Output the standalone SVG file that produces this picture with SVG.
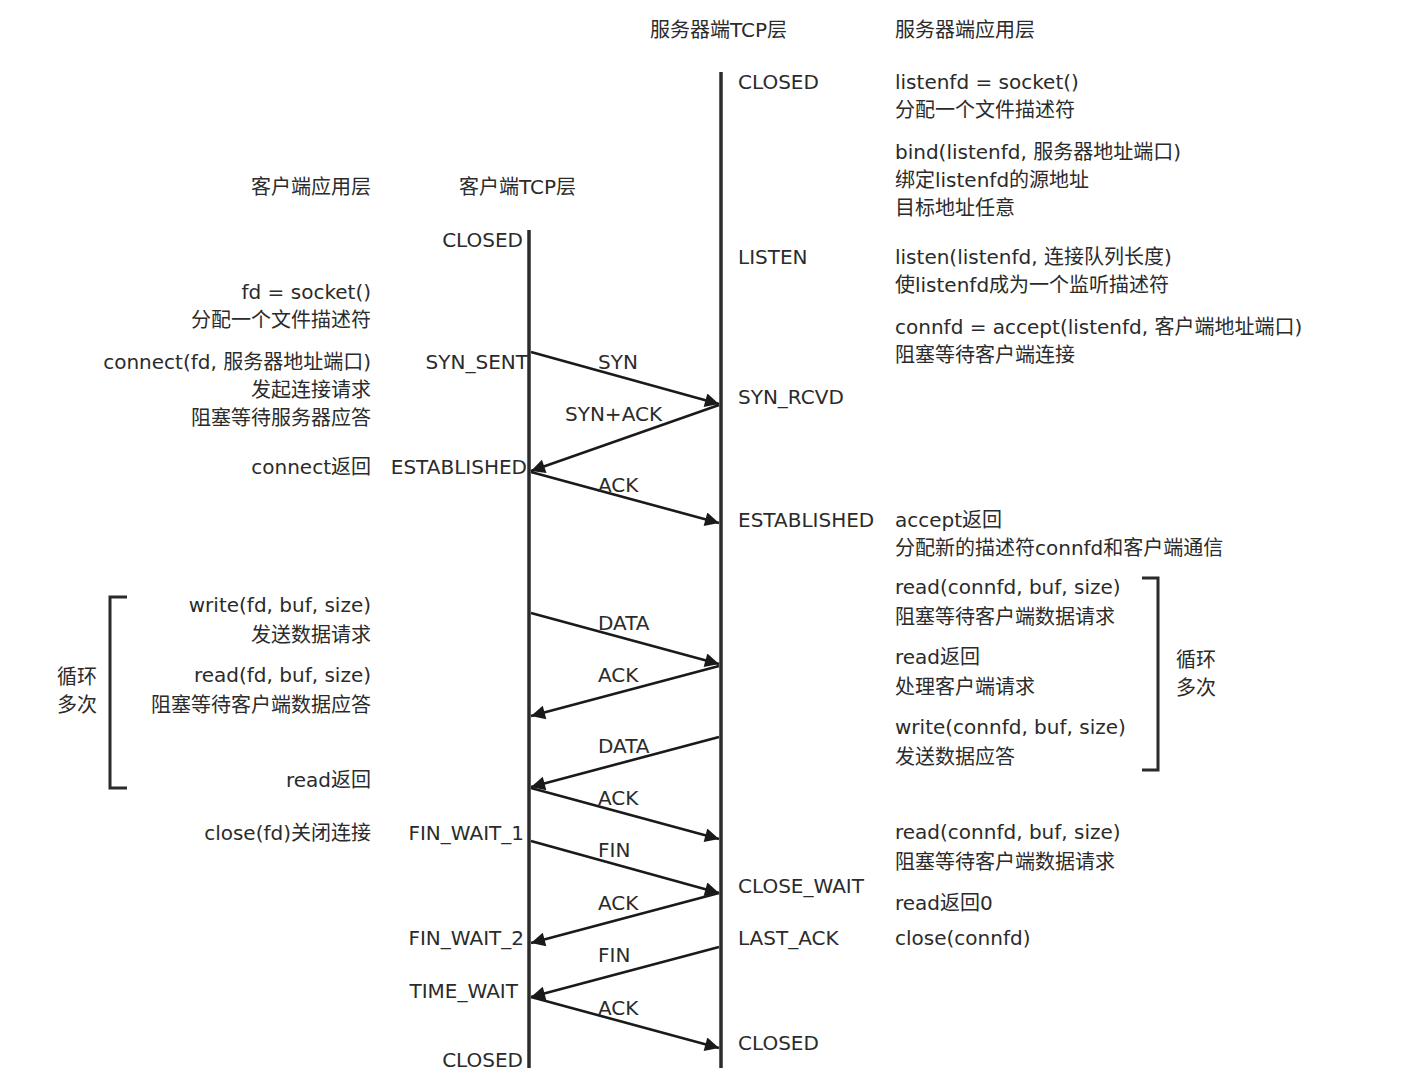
<svg xmlns="http://www.w3.org/2000/svg" width="1402" height="1087" viewBox="0 0 1402 1087">
<style>
.t{font-family:"DejaVu Sans","Noto Sans CJK SC",sans-serif;font-size:20px;fill:#2b2b2b}
.e{text-anchor:end}
.m{text-anchor:middle}
.life{stroke:#2b2b2b;stroke-width:3.5;fill:none}
.msg{stroke:#1a1a1a;stroke-width:2.6;fill:none;marker-end:url(#ah)}
.br{stroke:#2b2b2b;stroke-width:3;fill:none}
</style>
<defs>
<marker id="ah" viewBox="0 0 10 10" refX="10" refY="5" markerUnits="userSpaceOnUse" markerWidth="19" markerHeight="14" orient="auto">
<path d="M0,0 L10,5 L0,10 z" fill="#1a1a1a"/>
</marker>
</defs>
<rect width="1402" height="1087" fill="#ffffff"/>

<g id="headers">
<text class="t" x="650" y="37">服务器端TCP层</text>
<text class="t" x="895" y="37">服务器端应用层</text>
<text class="t e" x="371" y="194">客户端应用层</text>
<text class="t" x="459" y="194">客户端TCP层</text>
</g>

<g id="client-tcp">
<line class="life" x1="529" y1="230" x2="529" y2="1068"/>
<text class="t e" x="523" y="247">CLOSED</text>
<text class="t e" x="528" y="369">SYN_SENT</text>
<text class="t e" x="527" y="474">ESTABLISHED</text>
<text class="t e" x="524" y="840">FIN_WAIT_1</text>
<text class="t e" x="524" y="945">FIN_WAIT_2</text>
<text class="t e" x="518" y="998">TIME_WAIT</text>
<text class="t e" x="523" y="1067">CLOSED</text>
</g>

<g id="server-tcp">
<line class="life" x1="721" y1="72" x2="721" y2="1068"/>
<text class="t" x="738" y="89">CLOSED</text>
<text class="t" x="738" y="264">LISTEN</text>
<text class="t" x="738" y="404">SYN_RCVD</text>
<text class="t" x="738" y="527">ESTABLISHED</text>
<text class="t" x="738" y="893">CLOSE_WAIT</text>
<text class="t" x="738" y="945">LAST_ACK</text>
<text class="t" x="738" y="1050">CLOSED</text>
</g>

<g id="connectors">
<line class="msg" x1="531" y1="352" x2="719" y2="404"/>
<line class="msg" x1="719" y1="405" x2="531" y2="471"/>
<line class="msg" x1="531" y1="472" x2="719" y2="523"/>
<line class="msg" x1="531" y1="613" x2="719" y2="664"/>
<line class="msg" x1="719" y1="666" x2="531" y2="716"/>
<line class="msg" x1="719" y1="737" x2="531" y2="787"/>
<line class="msg" x1="531" y1="788" x2="719" y2="839"/>
<line class="msg" x1="531" y1="841" x2="719" y2="893"/>
<line class="msg" x1="719" y1="893" x2="531" y2="943"/>
<line class="msg" x1="719" y1="947" x2="531" y2="997"/>
<line class="msg" x1="531" y1="997" x2="719" y2="1048"/>
</g>

<g id="connector-labels">
<text class="t" x="598" y="369">SYN</text>
<text class="t" x="565" y="421">SYN+ACK</text>
<text class="t" x="598" y="492">ACK</text>
<text class="t" x="598" y="630">DATA</text>
<text class="t" x="598" y="682">ACK</text>
<text class="t" x="598" y="753">DATA</text>
<text class="t" x="598" y="805">ACK</text>
<text class="t" x="598" y="857">FIN</text>
<text class="t" x="598" y="910">ACK</text>
<text class="t" x="598" y="962">FIN</text>
<text class="t" x="598" y="1015">ACK</text>
</g>

<g id="client-app">
<text class="t e" x="371" y="299">fd = socket()</text>
<text class="t e" x="371" y="327">分配一个文件描述符</text>
<text class="t e" x="371" y="369">connect(fd, 服务器地址端口)</text>
<text class="t e" x="371" y="397">发起连接请求</text>
<text class="t e" x="371" y="425">阻塞等待服务器应答</text>
<text class="t e" x="371" y="474">connect返回</text>
<text class="t e" x="371" y="612">write(fd, buf, size)</text>
<text class="t e" x="371" y="642">发送数据请求</text>
<text class="t e" x="371" y="682">read(fd, buf, size)</text>
<text class="t e" x="371" y="712">阻塞等待客户端数据应答</text>
<text class="t e" x="371" y="787">read返回</text>
<text class="t e" x="371" y="840">close(fd)关闭连接</text>
</g>

<g id="client-loop">
<path class="br" d="M127,597 L110,597 L110,788 L127,788"/>
<text class="t m" x="77" y="684">循环</text>
<text class="t m" x="77" y="712">多次</text>
</g>

<g id="server-app">
<text class="t" x="895" y="89">listenfd = socket()</text>
<text class="t" x="895" y="117">分配一个文件描述符</text>
<text class="t" x="895" y="159">bind(listenfd, 服务器地址端口)</text>
<text class="t" x="895" y="187">绑定listenfd的源地址</text>
<text class="t" x="895" y="215">目标地址任意</text>
<text class="t" x="895" y="264">listen(listenfd, 连接队列长度)</text>
<text class="t" x="895" y="292">使listenfd成为一个监听描述符</text>
<text class="t" x="895" y="334">connfd = accept(listenfd, 客户端地址端口)</text>
<text class="t" x="895" y="362">阻塞等待客户端连接</text>
<text class="t" x="895" y="527">accept返回</text>
<text class="t" x="895" y="555">分配新的描述符connfd和客户端通信</text>
<text class="t" x="895" y="594">read(connfd, buf, size)</text>
<text class="t" x="895" y="624">阻塞等待客户端数据请求</text>
<text class="t" x="895" y="664">read返回</text>
<text class="t" x="895" y="694">处理客户端请求</text>
<text class="t" x="895" y="734">write(connfd, buf, size)</text>
<text class="t" x="895" y="764">发送数据应答</text>
<text class="t" x="895" y="839">read(connfd, buf, size)</text>
<text class="t" x="895" y="869">阻塞等待客户端数据请求</text>
<text class="t" x="895" y="910">read返回0</text>
<text class="t" x="895" y="945">close(connfd)</text>
</g>

<g id="server-loop">
<path class="br" d="M1142,578 L1158,578 L1158,770 L1142,770"/>
<text class="t" x="1176" y="667">循环</text>
<text class="t" x="1176" y="695">多次</text>
</g>
</svg>
